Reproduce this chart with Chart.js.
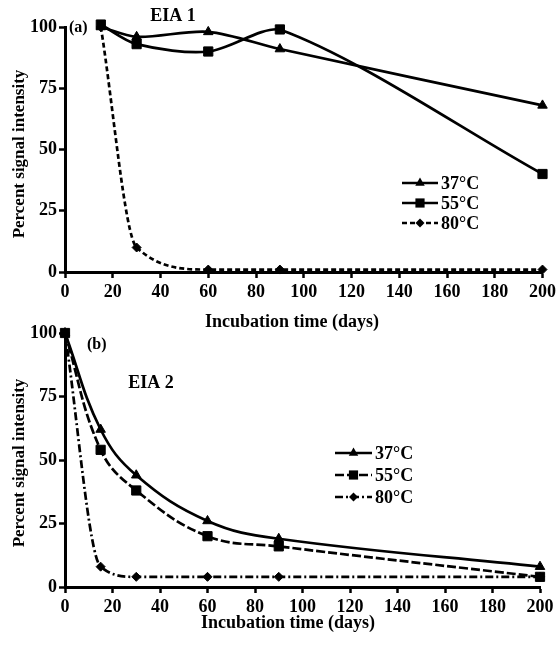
<!DOCTYPE html>
<html>
<head>
<meta charset="utf-8">
<script src="https://cdn.jsdelivr.net/npm/chart.js"></script>
<style>
    html, body { margin: 0; padding: 0; background: #fff; }
    #wrap { position: relative; width: 560px; height: 646px; }
    canvas { position: absolute; left: 0; }
    #chartA { top: 0; }
    #chartB { top: 310px; }
</style>
</head>
<body>
<div id="wrap">
    <canvas id="chartA" width="560" height="335"></canvas>
    <canvas id="chartB" width="560" height="336"></canvas>
</div>
<script>
const FONT = '"Liberation Serif", "Times New Roman", serif';

// axis ranges / ticks
const xMin = 0, xMax = 200, xStep = 20;
const yMin = 0, yMax = 100, yStep = 25;

const seriesNames = ["37°C", "55°C", "80°C"];

// panel (a) EIA 1
const daysA = [15, 30, 60, 90, 200];
const eiaA37 = [100, 96, 98, 91, 68];
const eiaA55 = [101, 93, 90, 99, 40];
const eiaA80 = [100, 10, 1, 1, 1];

// panel (b) EIA 2
const daysB = [0, 15, 30, 60, 90, 200];
const eiaB37 = [100, 62, 44, 26, 19, 8];
const eiaB55 = [100, 54, 38, 20, 16, 4];
const eiaB80 = [100, 8, 4, 4, 4, 4];

function toPoints(xs, ys) {
    return xs.map((x, i) => ({x: x, y: ys[i]}))
}

function makeSet(label, xs, ys, style, dash, tension, mode) {
    let radius = style == "rect" ? 6.5 : (style == "triangle" ? 5.5 : 4.5)
    return {
        label: label,
        data: toPoints(xs, ys),
        borderColor: "#000",
        backgroundColor: "#000",
        borderWidth: 2.7,
        borderDash: dash,
        pointStyle: style,
        pointRadius: radius,
        pointBorderWidth: 1,
        tension: tension,
        cubicInterpolationMode: mode || "default",
        clip: false
    }
}

// small marker drawer for the legend, same shapes as chart.js uses
function drawMarker(ctx, style, x, y, r) {
    ctx.beginPath();
    if (style == "triangle") {
        ctx.moveTo(x, y - r);
        ctx.lineTo(x + 0.866 * r, y + 0.5 * r);
        ctx.lineTo(x - 0.866 * r, y + 0.5 * r);
    } else if (style == "rect") {
        let s = r * Math.SQRT1_2;
        ctx.rect(x - s, y - s, 2 * s, 2 * s);
    } else {
        ctx.moveTo(x - r, y);
        ctx.lineTo(x, y - r);
        ctx.lineTo(x + r, y);
        ctx.lineTo(x, y + r);
    }
    ctx.closePath();
    ctx.fill();
}

const panelText = {
    id: "panelText",
    afterDraw(chart, args, o) {
        const ctx = chart.ctx;
        ctx.save();
        ctx.fillStyle = "#000";
        ctx.strokeStyle = "#000";
        ctx.textBaseline = "middle";

        ctx.font = "bold 16px " + FONT;
        ctx.textAlign = "left";
        ctx.fillText(o.letter, o.letterPos[0], o.letterPos[1]);

        ctx.font = "bold 18px " + FONT;
        ctx.textAlign = "center";
        ctx.fillText(o.heading, o.headingPos[0], o.headingPos[1]);

        ctx.fillText("Incubation time (days)", o.xTitlePos[0], o.xTitlePos[1]);

        ctx.font = "bold 17px " + FONT;
        ctx.save();
        ctx.translate(o.yTitlePos[0], o.yTitlePos[1]);
        ctx.rotate(-Math.PI / 2);
        ctx.fillText("Percent signal intensity", 0, 0);
        ctx.restore();

        // legend: line - marker - line, then the label
        const lg = o.legend;
        ctx.font = "bold 18px " + FONT;
        chart.data.datasets.forEach((ds, i) => {
            let y = lg.y + i * lg.gap;
            ctx.lineWidth = 2.7;
            ctx.setLineDash(ds.borderDash || []);
            ctx.beginPath();
            ctx.moveTo(lg.x0, y);
            ctx.lineTo(lg.x1, y);
            ctx.stroke();
            ctx.setLineDash([]);
            drawMarker(ctx, ds.pointStyle, (lg.x0 + lg.x1) / 2, y, ds.pointRadius);
            ctx.textAlign = "left";
            ctx.fillText(ds.label, lg.x1 + 3, y + 1);
        });
        ctx.restore();
    }
};

function axes(xHeight) {
    const tickFont = {family: FONT, size: 18, weight: "bold"};
    return {
        x: {
            type: "linear",
            min: xMin, max: xMax,
            afterFit: s => { s.height = xHeight },
            border: {color: "#000", width: 3},
            grid: {display: true, drawOnChartArea: false, drawTicks: true, tickLength: 6, tickColor: "#000", tickWidth: 2.5},
            ticks: {stepSize: xStep, color: "#000", font: tickFont, padding: 4, maxRotation: 0}
        },
        y: {
            min: yMin, max: yMax,
            afterFit: s => { s.width = 65 },
            border: {color: "#000", width: 3},
            grid: {display: true, drawOnChartArea: false, drawTicks: true, tickLength: 6, tickColor: "#000", tickWidth: 2.5},
            ticks: {stepSize: yStep, color: "#000", font: tickFont, padding: 2}
        }
    }
}

new Chart(document.getElementById("chartA"), {
    type: "line",
    data: {
        datasets: [
            makeSet(seriesNames[0], daysA, eiaA37, "triangle", [], 0.3),
            makeSet(seriesNames[1], daysA, eiaA55, "rect", [], 0.3),
            makeSet(seriesNames[2], daysA, eiaA80, "rectRot", [5, 3], 0.4, "monotone")
        ]
    },
    options: {
        responsive: false,
        animation: false,
        layout: {padding: {top: 27, right: 14, left: 0, bottom: 0}},
        scales: axes(335 - 272),
        plugins: {
            legend: {display: false},
            tooltip: {enabled: false},
            panelText: {
                letter: "(a)", letterPos: [69, 28],
                heading: "EIA 1", headingPos: [173, 16],
                xTitlePos: [292, 322],
                yTitlePos: [20, 154],
                legend: {x0: 402, x1: 438, y: 183, gap: 20}
            }
        }
    },
    plugins: [panelText]
});

new Chart(document.getElementById("chartB"), {
    type: "line",
    data: {
        datasets: [
            makeSet(seriesNames[0], daysB, eiaB37, "triangle", [], 0.4),
            makeSet(seriesNames[1], daysB, eiaB55, "rect", [9, 3], 0.4),
            makeSet(seriesNames[2], daysB, eiaB80, "rectRot", [8, 3, 2, 3], 0.4, "monotone")
        ]
    },
    options: {
        responsive: false,
        animation: false,
        layout: {padding: {top: 23, right: 20, left: 0, bottom: 0}},
        scales: axes(336 - 277),
        plugins: {
            legend: {display: false},
            tooltip: {enabled: false},
            panelText: {
                letter: "(b)", letterPos: [87, 35],
                heading: "EIA 2", headingPos: [151, 73],
                xTitlePos: [288, 313],
                yTitlePos: [20, 153],
                legend: {x0: 335, x1: 372, y: 143, gap: 22}
            }
        }
    },
    plugins: [panelText]
});
</script>
</body>
</html>
